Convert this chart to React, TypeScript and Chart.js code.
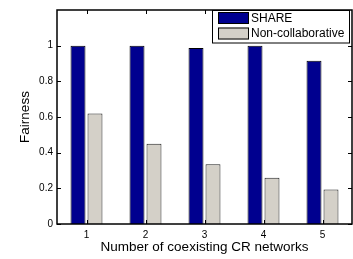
import React, { useEffect, useRef } from 'react';
import { Chart, registerables } from 'chart.js';

Chart.register(...registerables);

const categories = ['1', '2', '3', '4', '5'];
const shareValues = [1.0, 1.0, 0.987, 1.0, 0.916];
const nonCollabValues = [0.62, 0.45, 0.335, 0.259, 0.194];
const yTickValues = [0, 0.2, 0.4, 0.6, 0.8, 1];
const seriesLabels = ['SHARE', 'Non-collaborative'];
const seriesColors = ['#00008f', '#d4d0c8'];
const xTitle = 'Number of coexisting CR networks';
const yTitle = 'Fairness';

const FONT = "'Liberation Sans', Arial, Helvetica, sans-serif";

const matlabPlugin = {
  id: 'matlabAxes',
  afterDatasetsDraw(chart: any) {
    const { ctx, chartArea: a, scales } = chart;
    const x = scales.x;
    const y = scales.y;
    ctx.save();
    ctx.strokeStyle = '#000';
    ctx.lineWidth = 1;
    const tl = 4;
    ctx.beginPath();
    yTickValues.forEach((v) => {
      const py = Math.round(y.getPixelForValue(v)) + 0.5;
      ctx.moveTo(a.left, py);
      ctx.lineTo(a.left + tl, py);
      ctx.moveTo(a.right, py);
      ctx.lineTo(a.right - tl, py);
    });
    categories.forEach((_, i) => {
      const px = Math.round(x.getPixelForValue(i)) + 0.5;
      ctx.moveTo(px, a.bottom);
      ctx.lineTo(px, a.bottom - tl);
      ctx.moveTo(px, a.top);
      ctx.lineTo(px, a.top + tl);
    });
    ctx.stroke();
    ctx.lineWidth = 1.5;
    ctx.strokeRect(a.left, a.top, a.right - a.left, a.bottom - a.top);
    ctx.restore();
  },
  afterDraw(chart: any) {
    const { ctx, chartArea: a } = chart;
    const boxLeft = 212;
    const boxRight = a.right - 3;
    const boxTop = a.top;
    const boxBottom = 42.5;
    ctx.save();
    ctx.fillStyle = '#fff';
    ctx.fillRect(boxLeft, boxTop, boxRight - boxLeft, boxBottom - boxTop);
    ctx.strokeStyle = '#000';
    ctx.lineWidth = 1;
    ctx.strokeRect(boxLeft + 0.5, boxTop + 0.5, boxRight - boxLeft, boxBottom - boxTop);
    ctx.font = `12px ${FONT}`;
    ctx.textBaseline = 'middle';
    ctx.textAlign = 'left';
    chart.data.datasets.forEach((ds: any, i: number) => {
      const cy = 18 + i * 15.5;
      ctx.fillStyle = ds.backgroundColor;
      ctx.fillRect(218, cy - 6, 31, 12);
      ctx.strokeStyle = '#000';
      ctx.strokeRect(218.5, cy - 5.5, 30, 11);
      ctx.fillStyle = '#000';
      ctx.fillText(ds.label, 251, cy + 0.5);
    });
    ctx.restore();
  },
};

export default function App() {
  const ref = useRef<HTMLCanvasElement | null>(null);
  useEffect(() => {
    if (!ref.current) return;
    const chart = new Chart(ref.current, {
      type: 'bar',
      data: {
        labels: categories,
        datasets: [
          {
            label: seriesLabels[0],
            data: shareValues,
            backgroundColor: seriesColors[0],
            borderColor: '#000',
            borderWidth: 1,
          },
          {
            label: seriesLabels[1],
            data: nonCollabValues,
            backgroundColor: seriesColors[1],
            borderColor: '#222',
            borderWidth: 1,
          },
        ],
      },
      options: {
        responsive: false,
        animation: false,
        datasets: { bar: { categoryPercentage: 0.576, barPercentage: 0.88 } },
        layout: { padding: { top: 8, right: 1, left: 0, bottom: 0 } },
        plugins: { legend: { display: false }, tooltip: { enabled: false } },
        scales: {
          x: {
            grid: { display: false, drawTicks: false },
            border: { display: false },
            ticks: { color: '#000', padding: 5, font: { family: FONT, size: 10 } },
            title: {
              display: true,
              text: xTitle,
              color: '#000',
              font: { family: FONT, size: 13.5 },
              padding: { top: 0, bottom: 4 },
            },
            afterFit: (s: any) => {
              s.height = 35;
            },
          },
          y: {
            min: 0,
            max: 1.2,
            grid: { display: false, drawTicks: false },
            border: { display: false },
            afterBuildTicks: (s: any) => {
              s.ticks = yTickValues.map((v) => ({ value: v }));
            },
            ticks: {
              color: '#000',
              padding: 4,
              font: { family: FONT, size: 10 },
              callback: (v: any) => String(Math.round(Number(v) * 10) / 10),
            },
            title: {
              display: true,
              text: yTitle,
              color: '#000',
              font: { family: FONT, size: 13.5 },
              padding: { top: 17, bottom: 0 },
            },
            afterFit: (s: any) => {
              s.width = 57;
            },
          },
        },
      },
      plugins: [matlabPlugin],
    });
    return () => chart.destroy();
  }, []);
  return (
    <div style={{ position: 'fixed', left: 0, top: 0, width: 353, height: 259, background: '#fff' }}>
      <canvas ref={ref} width={353} height={259} style={{ display: 'block' }} />
    </div>
  );
}
